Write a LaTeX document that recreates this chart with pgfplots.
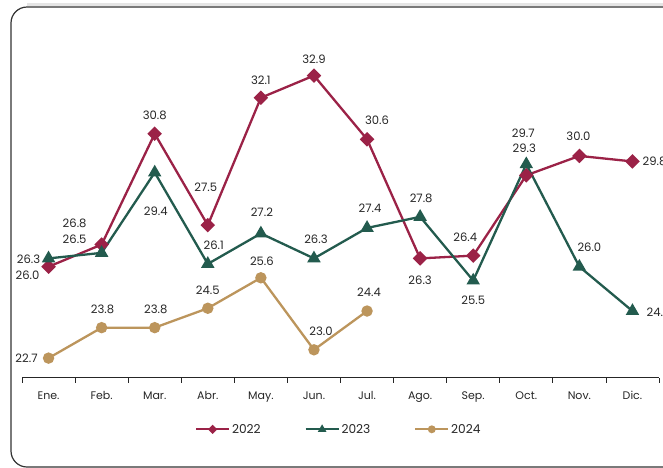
\documentclass[border=0pt]{standalone}
\usepackage{fontspec}
\setmainfont{Poppins}
\usepackage{pgfplots}
\usepackage{pgfplotstable}
\pgfplotsset{compat=1.18}

\definecolor{c22}{HTML}{9B2247}
\definecolor{c23}{HTML}{235B4E}
\definecolor{c24}{HTML}{BC955C}
\definecolor{txt}{HTML}{262626}

% x = month index, y = value, dx/dy = label offset in px from the point
\pgfplotstableread{
x y dx dy
0 26.0 -21 -9
1 26.8 -27 21
2 30.8 0 18
3 27.5 -2 38
4 32.1 0 17
5 32.9 0 16
6 30.6 10 19
7 26.3 0 -22
8 26.4 -8 18
9 29.3 -2 27
10 30.0 -1 20
11 29.8 22 0
}\dataA
\pgfplotstableread{
x y dx dy
0 26.3 -20 -1
1 26.5 -27 14
2 29.4 1 -39
3 26.1 6 19
4 27.2 1 21
5 26.3 2 19
6 27.4 3 20
7 27.8 1 19
8 25.5 0 -20
9 29.7 -3 31
10 26.0 10 19
11 24.4 26 -1
}\dataB
\pgfplotstableread{
x y dx dy
0 22.7 -22 0
1 23.8 1 18
2 23.8 1 18
3 24.5 0 18
4 25.6 1 17
5 23.0 7 19
6 24.4 2 19
}\dataC

\pgfplotsset{
  leg/.style={legend image code/.code={%
    \draw[mark repeat=2,mark phase=2,mark size=#1,line width=1.8pt]
      plot coordinates {(0pt,0pt) (16.5pt,0pt) (33pt,0pt)};}},
}

\begin{document}
\begin{tikzpicture}
\path[use as bounding box] (0,0) rectangle (663pt,-467pt);
\clip (0,0) rectangle (663pt,-467pt);
% card frame with a soft shadow along the top
\draw[line width=3pt, black!10] (27pt,-4pt) -- (720pt,-4pt);
\draw[line width=1.2pt, black!80, rounded corners=16pt] (11pt,-7pt) rectangle (720pt,-467pt);

\begin{axis}[
  at={(22pt,-377.5pt)}, anchor=south west,
  scale only axis, width=637pt, height=332.4pt,
  xmin=-0.5, xmax=11.5, ymin=22, ymax=34,
  clip=false,
  axis y line=none,
  axis x line*=bottom,
  x axis line style={-, txt, line width=0.9pt},
  xtick={0,...,11},
  xticklabels={Ene.,Feb.,Mar.,Abr.,May.,Jun.,Jul.,Ago.,Sep.,Oct.,Nov.,Dic.},
  minor xtick={-0.5,0.5,...,11.5},
  major tick length=0pt, minor tick length=5pt,
  tick align=outside,
  minor tick style={txt, line width=0.8pt},
  xticklabel style={anchor=base, yshift=-21.5pt, font=\fontsize{11}{13}\selectfont, text=txt},
  /pgf/number format/assume math mode=true,
  visualization depends on={\thisrow{dx}\as\lblx},
  visualization depends on={\thisrow{dy}\as\lbly},
  nodes near coords={\pgfmathprintnumber[fixed,fixed zerofill,precision=1]{\pgfplotspointmeta}},
  every node near coord/.append style={anchor=center, inner sep=0pt,
    xshift=\lblx pt, yshift=\lbly pt, text=txt, font=\fontsize{11.6}{13}\selectfont},
  legend style={at={(0.2716,-0.1558)}, anchor=west, draw=none, fill=none,
    legend columns=3, inner sep=0pt, font=\fontsize{12.2}{14}\selectfont, text=txt,
    /tikz/every even column/.append style={column sep=42pt}},
  legend cell align=left,
]
\addplot[c22, line width=2.3pt, mark=square*, mark size=4pt,
  mark options={solid, rotate=45, fill=c22}, leg=2.4pt] table[x=x,y=y] {\dataA};
\addlegendentry{2022}
\addplot[c23, line width=2.3pt, mark=triangle*, mark size=5.5pt,
  mark options={solid, fill=c23}, leg=3.2pt] table[x=x,y=y] {\dataB};
\addlegendentry{2023}
\addplot[c24, line width=2.3pt, mark=*, mark size=4.5pt,
  mark options={solid, fill=c24}, leg=3pt] table[x=x,y=y] {\dataC};
\addlegendentry{2024}
\end{axis}
\end{tikzpicture}
\end{document}
